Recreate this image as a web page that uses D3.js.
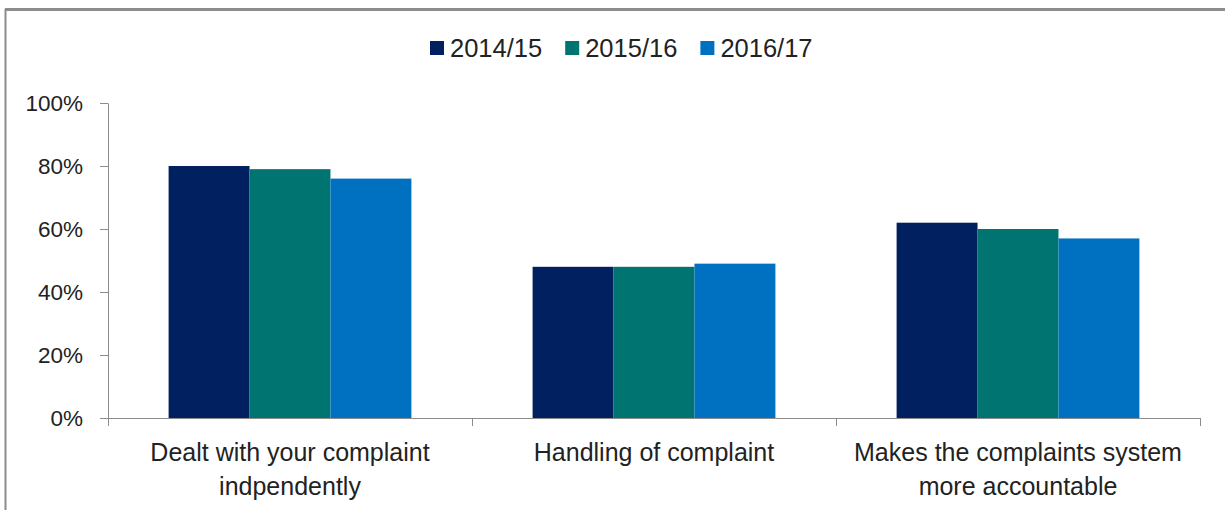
<!DOCTYPE html>
<html>
<head>
<meta charset="utf-8">
<script src="https://cdn.jsdelivr.net/npm/d3@7"></script>
<style>
  body { margin: 0; background: #fff; }
  text { font-family: "Liberation Sans", Arial, sans-serif; fill: #222; }
</style>
</head>
<body>
<div id="chart"></div>
<script>
// data
var categories = [["Dealt with your complaint", "indpendently"], ["Handling of complaint"], ["Makes the complaints system", "more accountable"]];
var catKeys = ["c1", "c2", "c3"];
var seriesNames = ["2014/15", "2015/16", "2016/17"];
var colors = ["#002060", "#007470", "#0070c0"];
var values2014 = [80, 48, 62];
var values2015 = [79, 48, 60];
var values2016 = [76, 49, 57];
var yTicks = [0, 20, 40, 60, 80, 100];

var allValues = [values2014, values2015, values2016];

var W = 1225, H = 510;
var margin = {top: 103, right: 25, bottom: 92, left: 108},
    width = W - margin.left - margin.right,
    height = H - margin.top - margin.bottom;

var root = d3.select("#chart").append("svg")
    .attr("width", W)
    .attr("height", H);

// outer frame
root.append("line").attr("x1", 5).attr("x2", W).attr("y1", 9.5).attr("y2", 9.5)
    .style("stroke", "#8c8c8c").style("stroke-width", 3);
root.append("line").attr("x1", 5.5).attr("x2", 5.5).attr("y1", 9).attr("y2", H)
    .style("stroke", "#8c8c8c").style("stroke-width", 2);

var svg = root.append("g")
    .attr("transform", "translate(" + margin.left + "," + margin.top + ")");

var x0 = d3.scaleBand()
    .domain(catKeys)
    .range([0, width])
    .paddingInner(0.333)
    .paddingOuter(0.1665);

var x1 = d3.scaleBand()
    .domain(seriesNames)
    .range([0, x0.bandwidth()]);

var y = d3.scaleLinear()
    .domain([0, 100])
    .range([height, 0]);

// Y axis
var yAxis = svg.append("g")
    .call(d3.axisLeft(y).tickValues(yTicks).tickSize(8).tickPadding(17)
        .tickFormat(function (d) { return d + "%"; }));
yAxis.selectAll("line, path").style("stroke", "#8c8c8c");
yAxis.select(".domain").attr("d", "M0.5," + height + "V0.5");
yAxis.selectAll("text").style("font-size", "22.5px").style("fill", "#222")
    .style("font-family", "'Liberation Sans', Arial, sans-serif");

// bars
catKeys.forEach(function (c, i) {
    var g = svg.append("g").attr("transform", "translate(" + x0(c) + ",0)");
    g.selectAll("rect")
        .data(seriesNames)
        .enter()
        .append("rect")
        .attr("x", function (s) { return x1(s); })
        .attr("y", function (s, j) { return y(allValues[j][i]); })
        .attr("width", x1.bandwidth())
        .attr("height", function (s, j) { return height - y(allValues[j][i]); })
        .style("fill", function (s, j) { return colors[j]; });
});

// X axis with dividers between categories
var xAxis = svg.append("g").attr("transform", "translate(0," + height + ")");
xAxis.append("line").attr("x1", 0).attr("x2", width).attr("y1", 0.5).attr("y2", 0.5)
    .style("stroke", "#8c8c8c");
var step = x0.step();
d3.range(catKeys.length + 1).forEach(function (k) {
    var xp = Math.round(k * step) + 0.5;
    xAxis.append("line").attr("x1", xp).attr("x2", xp).attr("y1", 0).attr("y2", 8)
        .style("stroke", "#8c8c8c");
});
catKeys.forEach(function (c, i) {
    var t = xAxis.append("text")
        .attr("x", x0(c) + x0.bandwidth() / 2)
        .attr("y", 43)
        .attr("text-anchor", "middle")
        .style("font-size", "25px");
    categories[i].forEach(function (line, k) {
        t.append("tspan").attr("x", x0(c) + x0.bandwidth() / 2).attr("dy", k === 0 ? 0 : 34).text(line);
    });
});

// legend
var legend = root.append("g").attr("transform", "translate(430,48)");
var lx = 0;
seriesNames.forEach(function (s, i) {
    var item = legend.append("g").attr("transform", "translate(" + lx + ",0)");
    item.append("rect").attr("x", 0).attr("y", -7).attr("width", 14).attr("height", 14)
        .style("fill", colors[i]);
    var tx = item.append("text").attr("x", 20).attr("y", 9)
        .style("font-size", "25.5px").text(s);
    lx += 20 + tx.node().getComputedTextLength() + 23;
});
</script>
</body>
</html>
